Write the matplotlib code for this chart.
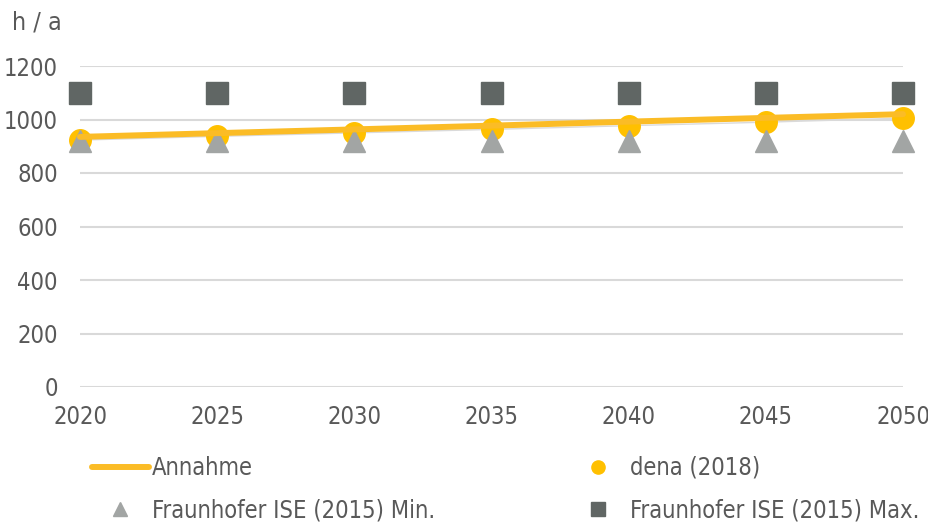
import matplotlib
matplotlib.use('Agg')
import matplotlib.pyplot as plt
from matplotlib.lines import Line2D

plt.rcParams['font.family'] = ['DejaVu Sans']
plt.rcParams['font.stretch'] = 'condensed'

# ============================================================
#  Daten (Volllaststunden, h/a)
# ============================================================
years    = [2020, 2025, 2030, 2035, 2040, 2045, 2050]
annahme  = [935, 949, 963, 977, 992, 1006, 1020]
dena     = [923, 937, 950, 963, 977, 990, 1005]
ise_min  = [920, 920, 920, 920, 920, 920, 920]
ise_max  = [1100, 1100, 1100, 1100, 1100, 1100, 1100]

yticks   = [0, 200, 400, 600, 800, 1000, 1200]
xticks   = [2020, 2025, 2030, 2035, 2040, 2045, 2050]

TXT    = '#595959'
GRID   = '#d9d9d9'
YELLOW = '#FBBC26'
GOLD   = '#FFC000'
DARK   = '#606664'
LIGHT  = '#A2A5A4'
FS     = 17

W, H = 929, 525
fig = plt.figure(figsize=(W / 100, H / 100), dpi=100)
ax = fig.add_axes([80 / W, 1 - 387 / H, (903 - 80) / W, (387 - 66) / H])

ax.set_xlim(2020, 2050)
ax.set_ylim(0, 1200)
ax.set_yticks(yticks)
ax.set_xticks(xticks)
ax.grid(axis='y', color=GRID, lw=1.5)
ax.set_axisbelow(True)
for s in ax.spines.values():
    s.set_visible(False)
ax.tick_params(length=0, labelsize=FS, colors=TXT)
ax.tick_params(axis='y', pad=16)
ax.tick_params(axis='x', pad=13)

# duenne graue Verbindungslinie hinter der Annahme
ax.plot(years, dena, color='#dadada', lw=1.0, zorder=2, clip_on=False)
ax.plot(years, ise_max, ls='none', marker='s', ms=16.5, color=DARK,
        zorder=3, clip_on=False)
ax.plot(years, dena, ls='none', marker='o', ms=15.5, color=GOLD,
        zorder=3, clip_on=False)
ax.plot(years, ise_min, ls='none', marker='^', ms=16.5, color=LIGHT,
        zorder=4, clip_on=False)
ax.plot(years, annahme, color=YELLOW, lw=4.3, zorder=5, clip_on=False,
        solid_capstyle='round')

fig.text(12 / W, 1 - 22 / H, 'h / a', fontsize=FS + 1, color=TXT,
         ha='left', va='center')

# ============================================================
#  Legende (zwei Spalten)
# ============================================================
h_ann = Line2D([], [], color=YELLOW, lw=4.3, solid_capstyle='round')
h_min = Line2D([], [], ls='none', marker='^', ms=10, color=LIGHT)
h_dena = Line2D([], [], ls='none', marker='o', ms=9.5, color=GOLD)
h_max = Line2D([], [], ls='none', marker='s', ms=10, color=DARK)

leg_kw = dict(frameon=False, fontsize=FS, labelcolor=TXT, handlelength=2.4,
              handletextpad=0.15, labelspacing=0.78, borderpad=0,
              borderaxespad=0, loc='upper left')
leg1 = fig.legend([h_ann, h_min], ['Annahme', 'Fraunhofer ISE (2015) Min.'],
                  bbox_to_anchor=(92 / W, 1 - 456 / H), **leg_kw)
leg2 = fig.legend([h_dena, h_max], ['dena (2018)', 'Fraunhofer ISE (2015) Max.'],
                  bbox_to_anchor=(570 / W, 1 - 456 / H), **leg_kw)

fig.savefig('out.png', dpi=100)
